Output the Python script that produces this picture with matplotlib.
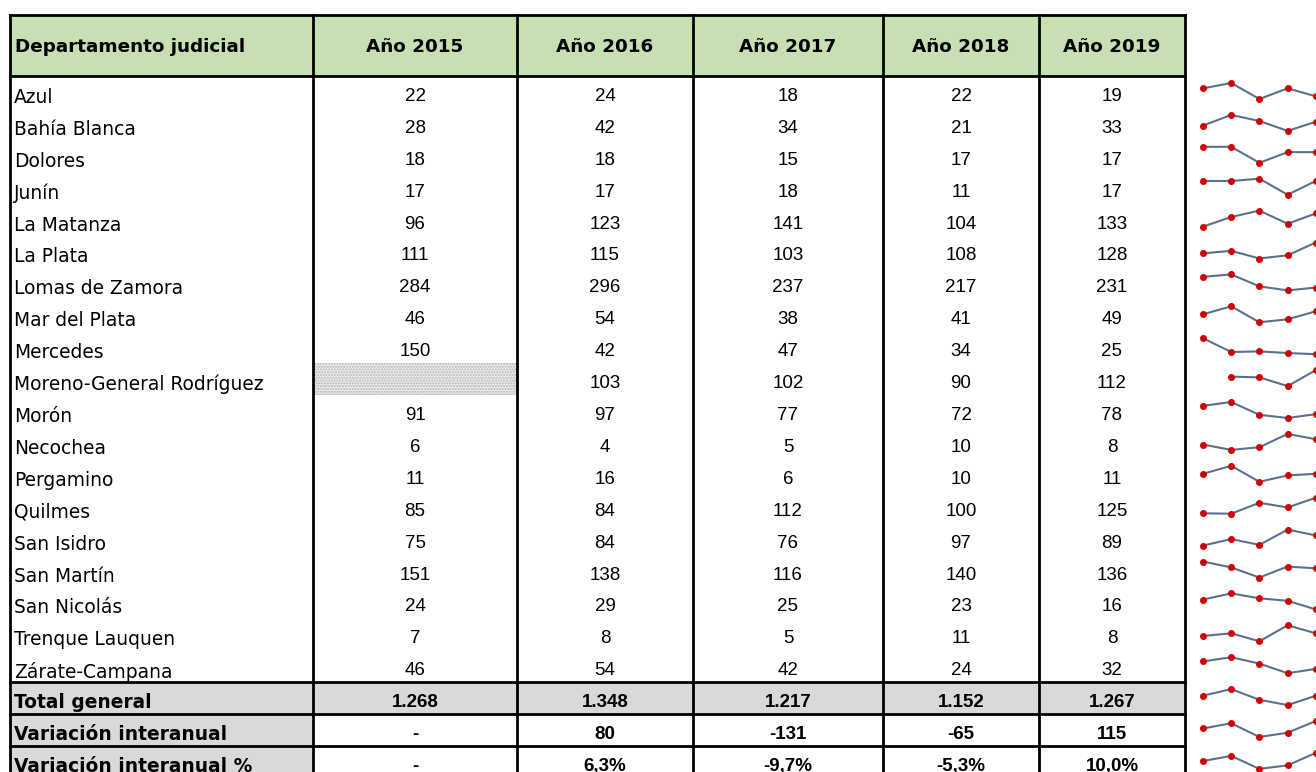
import numpy as np
import matplotlib
matplotlib.use("Agg")
import matplotlib.pyplot as plt
from matplotlib.patches import Rectangle

departamentos = ["Azul", "Bahía Blanca", "Dolores", "Junín", "La Matanza", "La Plata",
                 "Lomas de Zamora", "Mar del Plata", "Mercedes", "Moreno-General Rodríguez",
                 "Morón", "Necochea", "Pergamino", "Quilmes", "San Isidro", "San Martín",
                 "San Nicolás", "Trenque Lauquen", "Zárate-Campana"]
anios = ["Año 2015", "Año 2016", "Año 2017", "Año 2018", "Año 2019"]
v2015 = [22, 28, 18, 17, 96, 111, 284, 46, 150, np.nan, 91, 6, 11, 85, 75, 151, 24, 7, 46]
v2016 = [24, 42, 18, 17, 123, 115, 296, 54, 42, 103, 97, 4, 16, 84, 84, 138, 29, 8, 54]
v2017 = [18, 34, 15, 18, 141, 103, 237, 38, 47, 102, 77, 5, 6, 112, 76, 116, 25, 5, 42]
v2018 = [22, 21, 17, 11, 104, 108, 217, 41, 34, 90, 72, 10, 10, 100, 97, 140, 23, 11, 24]
v2019 = [19, 33, 17, 17, 133, 128, 231, 49, 25, 112, 78, 8, 11, 125, 89, 136, 16, 8, 32]
total = [1268, 1348, 1217, 1152, 1267]
variacion = [np.nan, 80, -131, -65, 115]
variacion_pct = [np.nan, 6.3, -9.7, -5.3, 10.0]

W, H = 1316, 772
col_edges = [10, 313, 517, 693, 883, 1039, 1185]
top, head_bot, row_h = 15, 76, 31.9
green, gray = "#c6e0b4", "#d9d9d9"
lab_font = "DejaVu Sans"
num_font = "Liberation Sans"

fig = plt.figure(figsize=(W / 100, H / 100), dpi=100)
ax = fig.add_axes([0, 0, 1, 1])
ax.set_xlim(0, W)
ax.set_ylim(H, 0)
ax.axis("off")

data = np.array([v2015, v2016, v2017, v2018, v2019], dtype=float).T
n = len(departamentos)


def miles(v):
    return format(int(v), ",").replace(",", ".")


def pct(v):
    return f"{v:.1f}%".replace(".", ",")


# header
ax.add_patch(Rectangle((col_edges[0], top), col_edges[-1] - col_edges[0], head_bot - top,
                       facecolor=green, edgecolor="none"))
ax.text(col_edges[0] + 5, (top + head_bot) / 2 + 2, "Departamento judicial", family=lab_font,
        weight="bold", fontsize=13.2, va="center", ha="left")
for j, a in enumerate(anios):
    xc = (col_edges[j + 1] + col_edges[j + 2]) / 2
    ax.text(xc, (top + head_bot) / 2 + 2, a, family=lab_font, weight="bold", fontsize=13.2,
            va="center", ha="center")

# data rows
for i, d in enumerate(departamentos):
    y0 = head_bot + i * row_h
    yc = y0 + 21.5
    ax.text(col_edges[0] + 4, yc, d, family=lab_font, fontsize=13.4, va="center", ha="left")
    for j in range(5):
        x0, x1 = col_edges[j + 1], col_edges[j + 2]
        v = data[i, j]
        if np.isnan(v):
            ax.add_patch(Rectangle((x0, y0), x1 - x0, row_h, facecolor="#ebebeb",
                                   edgecolor="#b5b5b5", hatch="......", lw=0))
        else:
            ax.text((x0 + x1) / 2, yc - 1, miles(v), family=num_font, fontsize=13.5,
                    va="center", ha="center")

# summary rows
summary = [("Total general", total, miles), ("Variación interanual", variacion, miles),
           ("Variación interanual %", variacion_pct, pct)]
for k, (lab, vals, fmt) in enumerate(summary):
    y0 = head_bot + (n + k) * row_h
    yc = y0 + 20.5
    w = col_edges[-1] - col_edges[0] if k == 0 else col_edges[1] - col_edges[0]
    ax.add_patch(Rectangle((col_edges[0], y0), w, row_h, facecolor=gray, edgecolor="none"))
    ax.text(col_edges[0] + 4, yc, lab, family=lab_font, weight="bold", fontsize=13.4,
            va="center", ha="left")
    for j, v in enumerate(vals):
        xc = (col_edges[j + 1] + col_edges[j + 2]) / 2
        s = "-" if np.isnan(v) else fmt(v)
        ax.text(xc, yc, s, family=num_font, weight="bold", fontsize=13.5,
                va="center", ha="center")
    ax.plot([col_edges[0], col_edges[-1]], [y0, y0], color="black", lw=2, solid_capstyle="projecting")

# borders
bottom = H + 5
for x in col_edges:
    ax.plot([x, x], [top, bottom], color="black", lw=2, solid_capstyle="projecting")
for y in [top, head_bot]:
    ax.plot([col_edges[0], col_edges[-1]], [y, y], color="black", lw=2, solid_capstyle="projecting")

# sparklines
all_rows = [list(r) for r in data] + [total, [0 if np.isnan(v) else v for v in variacion],
                                      [0 if np.isnan(v) else v for v in variacion_pct]]
xs = 1203 + 28.2 * np.arange(5)
for i, r in enumerate(all_rows):
    r = np.array(r, dtype=float)
    y0 = head_bot + i * row_h
    lo, hi = np.nanmin(r), np.nanmax(r)
    ys = y0 + 23 - (r - lo) / (hi - lo) * 16
    m = ~np.isnan(ys)
    ax.plot(xs[m], ys[m], color="#5a7090", lw=1.5, marker="o", markersize=4,
            markerfacecolor="#d00000", markeredgecolor="#d00000", clip_on=False)

fig.savefig("out.png", dpi=100)
